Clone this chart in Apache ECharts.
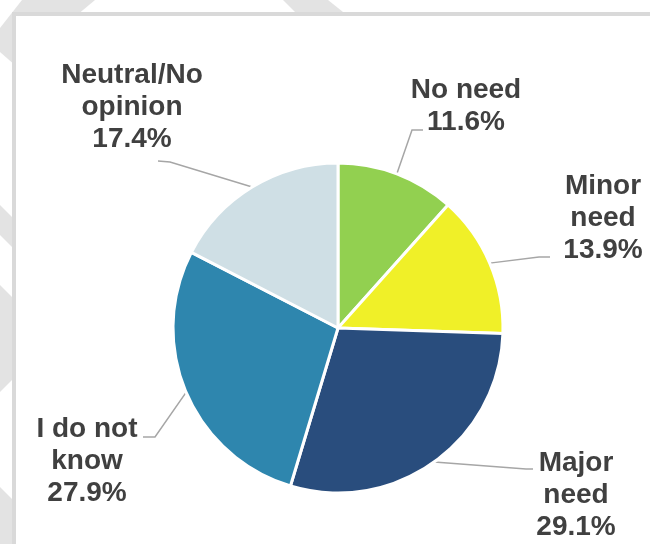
<!DOCTYPE html>
<html>
<head>
<meta charset="utf-8">
<script src="https://cdn.jsdelivr.net/npm/echarts@6/dist/echarts.min.js"></script>
<style>
  html, body { margin: 0; padding: 0; background: #ffffff; }
  #chart { width: 650px; height: 544px; }
</style>
</head>
<body>
<div id="chart"></div>
<script>
// Survey answers and their shares (%)
const categories = ['No need', 'Minor\nneed', 'Major\nneed', 'I do not\nknow', 'Neutral/No\nopinion'];
const shares = [11.6, 13.9, 29.1, 27.9, 17.4];
const sliceColors = ['#92d050', '#f0f028', '#294d7d', '#2e86ae', '#cfdfe5'];

// Where each label block sits (centre x, centre y) and the elbow / end of its leader line
const labelCentres = [[466, 106], [603, 218], [576, 495], [87, 461], [132, 107]];
const leaderBends = [
  [[412, 130], [423, 130]],
  [[539, 257], [550, 257]],
  [[526, 469], [533, 469]],
  [[155, 437], [143, 437]],
  [[170, 162], [158, 161]]
];

const LABEL_W = 160;
const chart = echarts.init(document.getElementById('chart'), null, { renderer: 'canvas' });

// Light diagonal backdrop shapes peeking out around the framed panel
const backdrop = [
  [[22, 0], [95, 0], [16, 66], [0, 52], [0, 28]],
  [[283, 0], [328, 0], [348, 16], [299, 16]],
  [[0, 205], [16, 221], [16, 251], [0, 235]],
  [[0, 285], [16, 301], [16, 376], [0, 392]],
  [[0, 487], [16, 503], [16, 544], [0, 544]]
].map(pts => ({
  type: 'polygon', z: 0, silent: true,
  shape: { points: pts },
  style: { fill: '#e3e3e3' }
}));

const option = {
  backgroundColor: '#ffffff',
  animation: false,
  graphic: backdrop.concat([{
    type: 'rect', z: 1, silent: true,
    shape: { x: 14, y: 14, width: 700, height: 600 },
    style: { fill: '#ffffff', stroke: '#d9d9d9', lineWidth: 4 }
  }]),
  series: [{
    type: 'pie',
    center: [338, 328],
    radius: 165,
    startAngle: 90,
    clockwise: true,
    avoidLabelOverlap: false,
    emphasis: { disabled: true },
    silent: true,
    data: categories.map((name, i) => ({
      name: name,
      value: shares[i],
      itemStyle: { color: sliceColors[i] }
    })),
    itemStyle: { borderColor: '#ffffff', borderWidth: 3 },
    label: {
      show: true,
      position: 'outside',
      alignTo: 'none',
      formatter: p => '{t|' + p.name + '\n' + p.value.toFixed(1) + '%}',
      rich: {
        t: {
          width: LABEL_W,
          align: 'center',
          fontFamily: '"Liberation Sans", Arial, sans-serif',
          fontWeight: 'bold',
          fontSize: 28,
          lineHeight: 32,
          color: '#404040'
        }
      }
    },
    labelLine: {
      show: true,
      length: 20,
      length2: 10,
      smooth: false,
      lineStyle: { color: '#a6a6a6', width: 1.5 }
    },
    labelLayout: function (params) {
      const i = params.dataIndex;
      const c = labelCentres[i];
      const x = params.align === 'right' ? c[0] + LABEL_W / 2
              : params.align === 'center' ? c[0]
              : c[0] - LABEL_W / 2;
      const out = { x: x, y: c[1], verticalAlign: 'middle' };
      const pts = params.labelLinePoints;
      if (pts && pts.length) {
        out.labelLinePoints = [pts[0], leaderBends[i][0], leaderBends[i][1]];
      }
      return out;
    }
  }]
};

chart.setOption(option);
</script>
</body>
</html>
